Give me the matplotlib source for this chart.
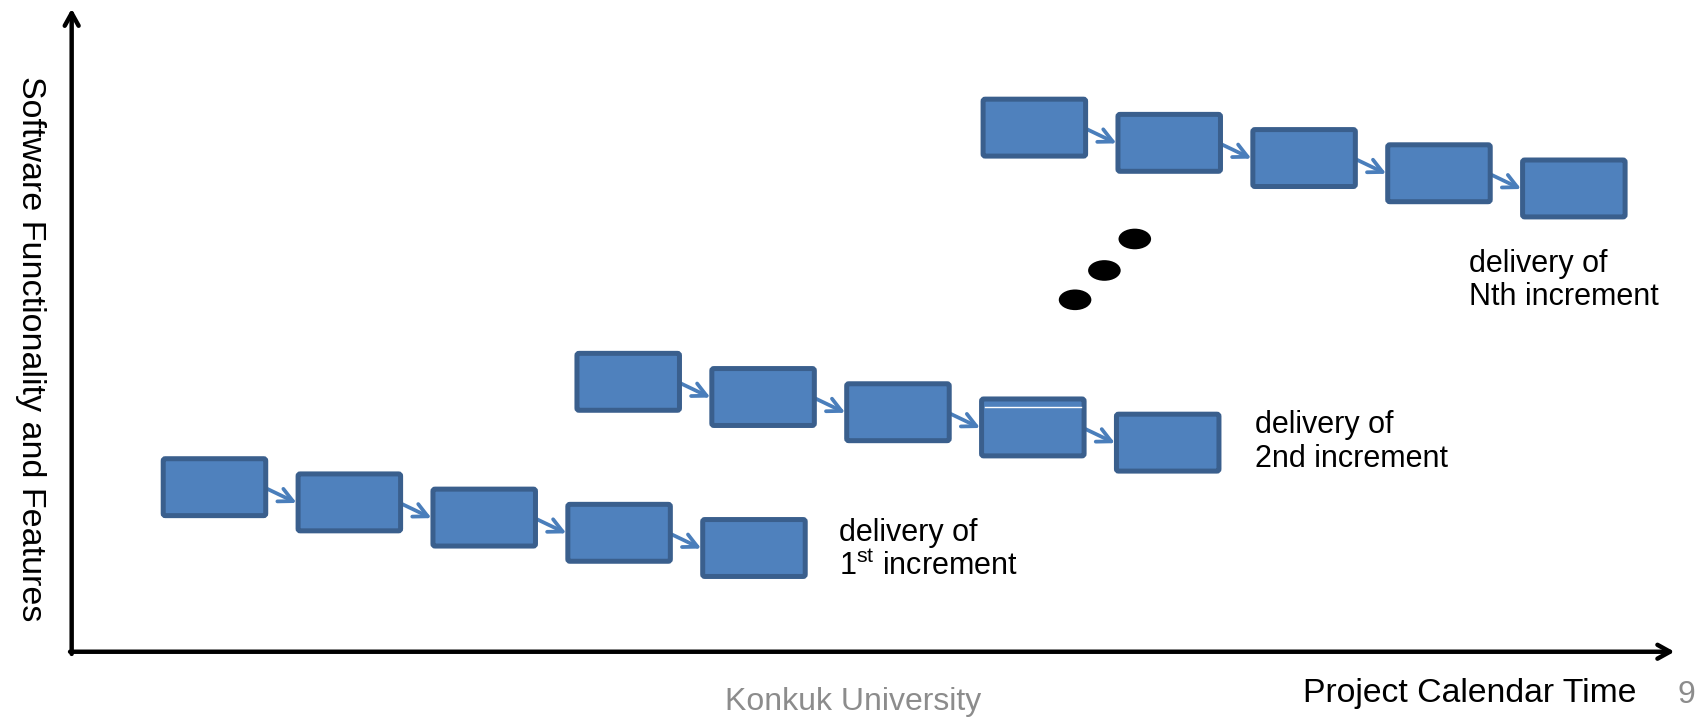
import matplotlib
matplotlib.use("Agg")
import matplotlib.pyplot as plt
from matplotlib.patches import FancyBboxPatch, Ellipse

plt.rcParams['font.family'] = ['Liberation Sans', 'DejaVu Sans']
plt.rcParams['mathtext.fontset'] = 'custom'
plt.rcParams['mathtext.rm'] = 'Liberation Sans'

# ---- data (diagram coordinates, y downwards) ----
increments = ["1st", "2nd", "Nth"]
row_x0 = [148, 529, 903]          # left edge of first box of each increment
row_y0 = [420, 323, 89]           # top edge of first box of each increment
n_boxes = [5, 5, 5]
step_x = 124.2
step_y = 14
box_w = 99
box_h = 57

labels = ["delivery of\n1$^{\\mathrm{st}}$ increment",
          "delivery of\n2nd increment",
          "delivery of\nNth increment"]
label_x = [773, 1156, 1353]
label_y = [506, 407, 258]

dots_x = [990, 1017, 1045]
dots_y = [276, 249, 220]

x_label = "Project Calendar Time"
y_label = "Software Functionality and Features"
footer = "Konkuk University"
page = "9"

FILL = '#4F81BD'
EDGE = '#3A5F8D'
ARROW = '#4A7EBB'

fig = plt.figure(figsize=(17.06, 7.18), dpi=100)
ax = fig.add_axes([0, 0, 1, 1])
ax.set_xlim(0, 1571)
ax.set_ylim(661, 0)
ax.axis('off')

lw_box = 3.6
ins = 2.3
for r in range(len(increments)):
    for i in range(n_boxes[r]):
        x = row_x0[r] + i * step_x
        y = row_y0[r] + i * step_y
        p = FancyBboxPatch((x + ins, y + ins), box_w - 2 * ins, box_h - 2 * ins,
                           boxstyle="round,pad=0,rounding_size=2",
                           facecolor=FILL, edgecolor=EDGE, linewidth=lw_box,
                           zorder=3)
        ax.add_patch(p)
        if r == 1 and i == 3:
            ax.plot([x + 5, x + box_w - 5], [y + 10, y + 10], color='white',
                    lw=1.0, zorder=4)
        if i < n_boxes[r] - 1:
            xs = x + box_w
            ys = y + 30
            xe = row_x0[r] + (i + 1) * step_x + 1
            ye = row_y0[r] + (i + 1) * step_y + 29
            ax.annotate('', xy=(xe, ye), xytext=(xs - 1, ys),
                        arrowprops=dict(arrowstyle='->,head_length=1.0,head_width=0.5',
                                        color=ARROW, lw=2.7,
                                        shrinkA=0, shrinkB=0), zorder=2)

for lx, ly, t in zip(label_x, label_y, labels):
    ax.text(lx, ly, t, fontsize=22, ha='left', va='center', linespacing=1.15,
            color='black')

for dx, dy in zip(dots_x, dots_y):
    ax.add_patch(Ellipse((dx, dy), 30, 19, facecolor='black', edgecolor='none'))

# axes arrows
ax.annotate('', xy=(66, 8), xytext=(66, 602),
            arrowprops=dict(arrowstyle='->,head_length=0.9,head_width=0.5',
                            color='black', lw=3.2, shrinkA=0, shrinkB=0))
ax.annotate('', xy=(1542, 600), xytext=(64.5, 600),
            arrowprops=dict(arrowstyle='->,head_length=0.9,head_width=0.5',
                            color='black', lw=3.2, shrinkA=0, shrinkB=0))

ax.text(28, 321, y_label, rotation=-90, fontsize=24.5, ha='center', va='center')
ax.text(1353, 638, x_label, fontsize=24.3, ha='center', va='center')
ax.text(786, 646, footer, fontsize=23, ha='center', va='center', color='#8C8C8C')
ax.text(1553, 640, page, fontsize=23, ha='center', va='center', color='#8C8C8C')

fig.savefig('out.png', dpi=100)
